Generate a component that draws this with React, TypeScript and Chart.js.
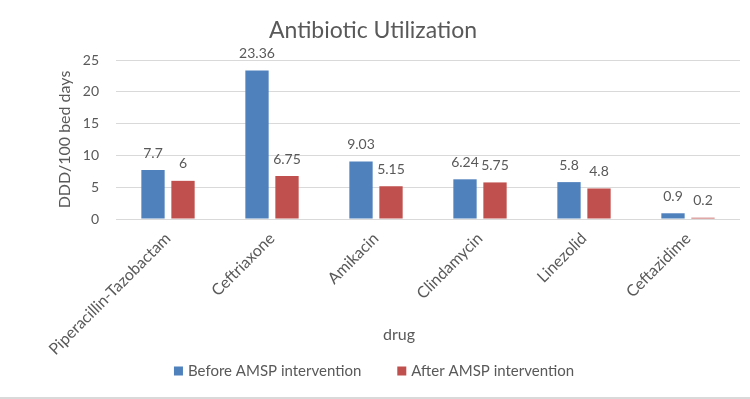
import React, { useEffect, useRef } from "react";
import { Chart, registerables } from "chart.js";

Chart.register(...registerables);

// Antibiotic consumption before / after the AMSP intervention (DDD per 100 bed days)
const drugs = [
  "Piperacillin-Tazobactam",
  "Ceftriaxone",
  "Amikacin",
  "Clindamycin",
  "Linezolid",
  "Ceftazidime",
];
const beforeAmsp = [7.7, 23.36, 9.03, 6.24, 5.8, 0.9];
const afterAmsp = [6, 6.75, 5.15, 5.75, 4.8, 0.2];
const seriesNames = ["Before AMSP intervention", "After AMSP intervention"];
const yTicks = [0, 5, 10, 15, 20, 25];

const chartTitle = "Antibiotic Utilization";
const yTitle = "DDD/100 bed days";
const xTitle = "drug";

const FONT = "Lato, 'Open Sans', sans-serif";
const TEXT = "#595959";
const GRID = "#d9d9d9";
const BLUE = "#4f81bd";
const RED = "#c0504d";

const W = 750;
const H = 399;

// Title, axis titles, value labels, legend and the frame line
const decorations = {
  id: "decorations",
  afterDraw(chart: any) {
    const ctx = chart.ctx as CanvasRenderingContext2D;
    const area = chart.chartArea;
    ctx.save();
    ctx.fillStyle = TEXT;

    // chart title
    ctx.font = `23px ${FONT}`;
    ctx.textAlign = "center";
    ctx.textBaseline = "alphabetic";
    ctx.fillText(chartTitle, 373, 38);

    // y axis title
    ctx.save();
    ctx.translate(65, (area.top + area.bottom) / 2);
    ctx.rotate(-Math.PI / 2);
    ctx.font = `16px ${FONT}`;
    ctx.textBaseline = "middle";
    ctx.fillText(yTitle, 0, 0);
    ctx.restore();

    // x axis title
    ctx.font = `16px ${FONT}`;
    ctx.textBaseline = "middle";
    ctx.fillText(xTitle, 399, 335);

    // value labels above each bar
    ctx.font = `14px ${FONT}`;
    chart.data.datasets.forEach((ds: any, i: number) => {
      const meta = chart.getDatasetMeta(i);
      meta.data.forEach((bar: any, j: number) => {
        ctx.fillText(String(ds.data[j]), bar.x, bar.y - 17);
      });
    });

    // legend
    ctx.font = `15px ${FONT}`;
    ctx.textAlign = "left";
    const box = 9;
    const gapText = 5;
    const gapItems = 36;
    const widths = chart.data.datasets.map(
      (ds: any) => box + gapText + ctx.measureText(ds.label).width
    );
    const total = widths.reduce((a: number, b: number) => a + b, 0) + gapItems * (widths.length - 1);
    let x = 374 - total / 2;
    const ly = 371;
    chart.data.datasets.forEach((ds: any, i: number) => {
      ctx.fillStyle = ds.backgroundColor;
      ctx.fillRect(x, ly - box / 2, box, box);
      ctx.fillStyle = TEXT;
      ctx.fillText(ds.label, x + box + gapText, ly);
      x += widths[i] + gapItems;
    });

    // frame line along the bottom
    ctx.fillStyle = GRID;
    ctx.fillRect(0, H - 2, W, 2);
    ctx.restore();
  },
};

export default function App() {
  const canvasRef = useRef<HTMLCanvasElement | null>(null);

  useEffect(() => {
    const canvas = canvasRef.current;
    if (!canvas) return;
    const chart = new Chart(canvas, {
      type: "bar",
      data: {
        labels: drugs,
        datasets: [
          {
            label: seriesNames[0],
            data: beforeAmsp,
            backgroundColor: BLUE,
            categoryPercentage: 0.577,
            barPercentage: 0.777,
          },
          {
            label: seriesNames[1],
            data: afterAmsp,
            backgroundColor: RED,
            categoryPercentage: 0.577,
            barPercentage: 0.777,
          },
        ],
      },
      options: {
        responsive: false,
        animation: false,
        devicePixelRatio: 1,
        layout: { padding: { top: 60, right: 10, left: 0, bottom: 0 } },
        plugins: {
          legend: { display: false },
          title: { display: false },
          tooltip: { enabled: false },
        },
        scales: {
          x: {
            grid: { display: false, drawTicks: false },
            border: { display: false },
            ticks: {
              color: TEXT,
              font: { family: FONT, size: 16 },
              minRotation: 45,
              maxRotation: 45,
              padding: 10,
              autoSkip: false,
            },
            afterFit: (s: any) => {
              s.height = 180;
            },
          },
          y: {
            min: 0,
            max: 25,
            afterBuildTicks: (s: any) => {
              s.ticks = yTicks.map((v) => ({ value: v }));
            },
            ticks: {
              color: TEXT,
              font: { family: FONT, size: 14 },
              padding: 17,
            },
            grid: { color: GRID, drawTicks: false, lineWidth: 1 },
            border: { display: false },
            afterFit: (s: any) => {
              s.width = 116;
            },
          },
        },
      },
      plugins: [decorations],
    });
    return () => chart.destroy();
  }, []);

  return (
    <div style={{ position: "fixed", left: 0, top: 0, width: W, height: H, background: "#fff" }}>
      <canvas ref={canvasRef} width={W} height={H} style={{ display: "block" }} />
    </div>
  );
}
